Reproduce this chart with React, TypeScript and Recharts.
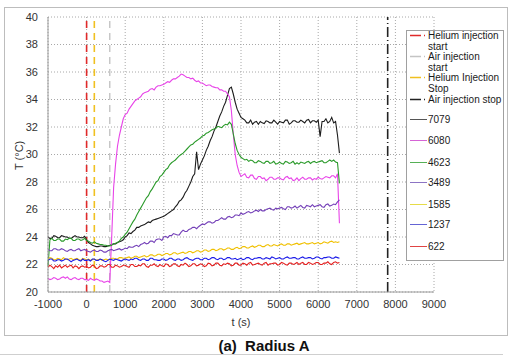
import React from 'react'
import { LineChart, Line, XAxis, YAxis, CartesianGrid, ReferenceLine, Legend } from 'recharts'

// time in seconds, one sample every 50 s; the last sample is the shutdown drop
const times = [
  -1000, -950, -900, -850, -800, -750, -700, -650, -600, -550,
  -500, -450, -400, -350, -300, -250, -200, -150, -100, -50,
  0, 50, 100, 150, 200, 250, 300, 350, 400, 450,
  500, 550, 600, 650, 700, 750, 800, 850, 900, 950,
  1000, 1050, 1100, 1150, 1200, 1250, 1300, 1350, 1400, 1450,
  1500, 1550, 1600, 1650, 1700, 1750, 1800, 1850, 1900, 1950,
  2000, 2050, 2100, 2150, 2200, 2250, 2300, 2350, 2400, 2450,
  2500, 2550, 2600, 2650, 2700, 2750, 2800, 2850, 2900, 2950,
  3000, 3050, 3100, 3150, 3200, 3250, 3300, 3350, 3400, 3450,
  3500, 3550, 3600, 3650, 3700, 3750, 3800, 3850, 3900, 3950,
  4000, 4050, 4100, 4150, 4200, 4250, 4300, 4350, 4400, 4450,
  4500, 4550, 4600, 4650, 4700, 4750, 4800, 4850, 4900, 4950,
  5000, 5050, 5100, 5150, 5200, 5250, 5300, 5350, 5400, 5450,
  5500, 5550, 5600, 5650, 5700, 5750, 5800, 5850, 5900, 5950,
  6000, 6050, 6100, 6150, 6200, 6250, 6300, 6350, 6400, 6450,
  6500, 6550,
]

const t7079 = [
  24.0, 23.9, 23.9, 24.1, 24.05, 23.95, 23.95, 24.1, 24.05, 24.0,
  24.0, 23.9, 23.9, 24.0, 24.1, 24.0, 24.0, 23.95, 23.95, 24.05,
  23.8, 23.6, 23.5, 23.4, 23.35, 23.3, 23.3, 23.35, 23.35, 23.3,
  23.3, 23.35, 23.4, 23.45, 23.5, 23.5, 23.6, 23.65, 23.7, 23.8,
  24.0, 24.1, 24.3, 24.25, 24.4, 24.5, 24.7, 24.7, 24.8, 24.85,
  24.9, 25.0, 25.1, 25.05, 25.2, 25.25, 25.3, 25.35, 25.4, 25.45,
  25.5, 25.6, 25.7, 25.8, 25.9, 26.0, 26.2, 26.35, 26.6, 26.7,
  26.9, 27.2, 27.4, 27.7, 28.0, 28.4, 28.6, 30.2, 28.9, 29.3,
  29.6, 29.9, 30.3, 30.6, 31.0, 31.3, 31.7, 32.0, 32.4, 32.8,
  33.1, 33.5, 33.8, 34.3, 34.8, 34.9, 34.4, 33.8, 33.3, 33.0,
  32.7, 32.6, 32.5, 32.3, 32.3, 32.5, 32.2, 32.35, 32.4, 32.2,
  32.4, 32.3, 32.25, 32.45, 32.4, 32.3, 32.3, 32.5, 32.35, 32.2,
  32.4, 32.35, 32.3, 32.5, 32.5, 32.2, 32.3, 32.45, 32.45, 32.35,
  32.35, 32.5, 32.4, 32.3, 32.5, 32.55, 32.3, 32.45, 32.45, 32.35,
  32.5, 31.3, 32.4, 32.4, 32.6, 32.3, 32.4, 32.7, 32.3, 32.4,
  31.4, 30.1,
]

const t6080 = [
  21.0, 20.9, 20.95, 21.05, 21.0, 20.9, 20.95, 21.05, 21.1, 21.0,
  21.1, 20.95, 20.9, 21.0, 21.05, 20.95, 20.9, 21.0, 21.0, 20.9,
  20.9, 20.85, 21.0, 20.9, 20.85, 20.95, 20.9, 20.8, 20.8, 20.7,
  20.75, 20.8, 20.7, 24.0, 27.6, 29.3, 30.6, 31.4, 32.0, 32.6,
  32.9, 33.0, 33.3, 33.5, 33.7, 33.9, 34.0, 34.1, 34.2, 34.4,
  34.5, 34.55, 34.6, 34.75, 34.8, 34.7, 34.9, 35.0, 35.0, 35.05,
  35.1, 35.2, 35.3, 35.25, 35.4, 35.5, 35.5, 35.6, 35.7, 35.85,
  35.8, 35.7, 35.6, 35.6, 35.5, 35.55, 35.4, 35.3, 35.35, 35.2,
  35.2, 35.1, 35.0, 35.05, 35.05, 34.95, 34.9, 34.85, 34.85, 34.7,
  34.7, 34.6, 34.6, 34.4, 34.2, 33.2, 31.5, 30.0, 29.2, 28.7,
  28.4, 28.5, 28.6, 28.35, 28.3, 28.5, 28.5, 28.25, 28.2, 28.4,
  28.4, 28.25, 28.3, 28.1, 28.2, 28.35, 28.35, 28.2, 28.2, 28.3,
  28.3, 28.2, 28.15, 28.35, 28.4, 28.25, 28.3, 28.1, 28.15, 28.3,
  28.1, 28.25, 28.35, 28.2, 28.2, 28.3, 28.3, 28.15, 28.25, 28.2,
  28.35, 28.25, 28.2, 28.3, 28.4, 28.35, 28.3, 28.45, 28.45, 28.3,
  28.6, 25.0,
]

const t4623 = [
  21.9, 23.8, 23.9, 23.75, 23.75, 23.85, 23.85, 23.7, 23.7, 23.85,
  23.8, 23.9, 23.9, 23.75, 23.75, 23.85, 23.85, 23.75, 23.8, 23.9,
  23.75, 23.7, 23.6, 23.55, 23.65, 23.55, 23.5, 23.45, 23.45, 23.4,
  23.4, 23.35, 23.35, 23.4, 23.5, 23.55, 23.6, 23.7, 23.9, 24.0,
  24.2, 24.35, 24.6, 24.85, 25.1, 25.3, 25.6, 25.85, 26.1, 26.35,
  26.6, 26.85, 27.0, 27.3, 27.5, 27.75, 28.0, 28.1, 28.4, 28.5,
  28.7, 28.9, 29.0, 29.25, 29.4, 29.5, 29.6, 29.75, 29.9, 30.0,
  30.1, 30.25, 30.4, 30.55, 30.7, 30.75, 30.9, 31.0, 31.1, 31.2,
  31.35, 31.4, 31.55, 31.6, 31.7, 31.8, 31.85, 31.9, 32.05, 32.0,
  31.95, 32.1, 32.2, 32.15, 32.35, 32.2, 31.5, 30.8, 30.3, 30.0,
  29.8, 29.7, 29.6, 29.65, 29.5, 29.6, 29.55, 29.4, 29.4, 29.55,
  29.5, 29.4, 29.35, 29.5, 29.5, 29.35, 29.4, 29.5, 29.3, 29.35,
  29.45, 29.35, 29.3, 29.5, 29.45, 29.35, 29.4, 29.5, 29.3, 29.4,
  29.3, 29.45, 29.4, 29.35, 29.45, 29.5, 29.35, 29.45, 29.5, 29.4,
  29.45, 29.5, 29.55, 29.4, 29.4, 29.5, 29.6, 29.5, 29.6, 29.45,
  29.4, 27.9,
]

const t3489 = [
  23.1, 23.0, 23.0, 23.15, 23.15, 23.05, 23.05, 23.15, 23.1, 23.0,
  22.95, 23.05, 23.1, 23.0, 23.0, 23.1, 23.15, 23.0, 23.05, 23.1,
  23.0, 22.95, 22.9, 23.0, 23.05, 22.95, 22.95, 23.05, 23.0, 22.9,
  22.9, 23.0, 23.05, 23.1, 23.0, 23.05, 23.1, 23.15, 23.05, 23.1,
  23.2, 23.15, 23.3, 23.25, 23.25, 23.35, 23.4, 23.3, 23.45, 23.5,
  23.6, 23.5, 23.55, 23.7, 23.7, 23.6, 23.8, 23.85, 23.85, 23.75,
  24.0, 24.05, 23.95, 24.1, 24.1, 24.25, 24.2, 24.15, 24.15, 24.35,
  24.5, 24.4, 24.4, 24.55, 24.6, 24.7, 24.7, 24.6, 24.75, 24.85,
  24.95, 24.9, 25.0, 25.1, 25.1, 25.0, 25.05, 25.2, 25.2, 25.3,
  25.4, 25.3, 25.3, 25.45, 25.5, 25.4, 25.45, 25.6, 25.6, 25.55,
  25.75, 25.65, 25.7, 25.8, 25.85, 25.75, 25.8, 25.9, 25.95, 25.85,
  26.0, 25.9, 25.9, 26.0, 26.05, 26.1, 26.0, 25.95, 26.1, 26.05,
  26.1, 26.15, 26.05, 26.0, 26.2, 26.2, 26.1, 26.15, 26.25, 26.1,
  26.2, 26.3, 26.15, 26.1, 26.3, 26.25, 26.2, 26.35, 26.2, 26.25,
  26.3, 26.35, 26.2, 26.15, 26.35, 26.4, 26.25, 26.3, 26.4, 26.35,
  26.55, 26.7,
]

const t1585 = [
  22.4, 22.5, 22.45, 22.35, 22.35, 22.45, 22.4, 22.35, 22.5, 22.4,
  22.35, 22.4, 22.45, 22.35, 22.4, 22.45, 22.35, 22.3, 22.45, 22.4,
  22.35, 22.4, 22.3, 22.35, 22.4, 22.3, 22.35, 22.4, 22.3, 22.35,
  22.4, 22.35, 22.35, 22.45, 22.45, 22.4, 22.4, 22.5, 22.5, 22.45,
  22.45, 22.5, 22.55, 22.45, 22.5, 22.6, 22.6, 22.5, 22.55, 22.6,
  22.65, 22.55, 22.6, 22.7, 22.7, 22.6, 22.65, 22.75, 22.75, 22.65,
  22.7, 22.8, 22.8, 22.7, 22.75, 22.85, 22.85, 22.75, 22.8, 22.85,
  22.9, 22.8, 22.85, 22.95, 22.95, 22.85, 22.9, 23.0, 23.0, 22.9,
  22.95, 23.05, 23.05, 22.95, 23.0, 23.1, 23.1, 23.0, 23.05, 23.15,
  23.15, 23.05, 23.1, 23.2, 23.2, 23.1, 23.1, 23.2, 23.25, 23.15,
  23.2, 23.3, 23.3, 23.2, 23.2, 23.3, 23.35, 23.25, 23.3, 23.4,
  23.4, 23.3, 23.3, 23.4, 23.45, 23.35, 23.35, 23.45, 23.4, 23.35,
  23.45, 23.5, 23.4, 23.4, 23.5, 23.5, 23.4, 23.45, 23.5, 23.55,
  23.45, 23.5, 23.55, 23.6, 23.5, 23.5, 23.55, 23.6, 23.5, 23.55,
  23.6, 23.5, 23.55, 23.65, 23.6, 23.55, 23.65, 23.7, 23.6, 23.65,
  23.6, 23.65,
]

const t1237 = [
  22.3, 22.4, 22.4, 22.25, 22.25, 22.35, 22.35, 22.25, 22.3, 22.4,
  22.4, 22.3, 22.2, 22.3, 22.35, 22.4, 22.3, 22.25, 22.4, 22.3,
  22.3, 22.35, 22.25, 22.4, 22.4, 22.3, 22.3, 22.4, 22.35, 22.25,
  22.2, 22.3, 22.4, 22.35, 22.3, 22.4, 22.35, 22.3, 22.25, 22.35,
  22.4, 22.35, 22.3, 22.4, 22.35, 22.45, 22.45, 22.35, 22.3, 22.4,
  22.4, 22.3, 22.3, 22.45, 22.45, 22.35, 22.35, 22.3, 22.3, 22.4,
  22.4, 22.3, 22.35, 22.45, 22.45, 22.35, 22.3, 22.4, 22.4, 22.3,
  22.35, 22.45, 22.5, 22.4, 22.35, 22.3, 22.4, 22.45, 22.45, 22.35,
  22.35, 22.45, 22.45, 22.35, 22.4, 22.5, 22.5, 22.4, 22.35, 22.45,
  22.45, 22.35, 22.4, 22.5, 22.5, 22.4, 22.4, 22.45, 22.35, 22.4,
  22.45, 22.35, 22.4, 22.5, 22.5, 22.4, 22.35, 22.45, 22.45, 22.5,
  22.5, 22.4, 22.4, 22.5, 22.45, 22.4, 22.55, 22.5, 22.4, 22.45,
  22.5, 22.4, 22.4, 22.5, 22.55, 22.45, 22.45, 22.5, 22.5, 22.4,
  22.4, 22.5, 22.55, 22.45, 22.45, 22.5, 22.5, 22.4, 22.45, 22.55,
  22.55, 22.45, 22.4, 22.5, 22.5, 22.55, 22.55, 22.45, 22.45, 22.55,
  22.5, 22.45,
]

const t622 = [
  21.8, 21.95, 21.85, 21.7, 21.9, 21.8, 21.95, 21.75, 21.85, 21.95,
  21.8, 21.9, 21.95, 21.75, 21.9, 21.85, 21.7, 21.85, 21.9, 21.8,
  21.85, 21.75, 21.8, 21.95, 21.9, 21.7, 21.75, 21.9, 21.9, 21.8,
  21.85, 22.0, 22.0, 21.8, 21.8, 21.95, 21.9, 21.8, 21.85, 21.95,
  21.95, 21.85, 21.8, 22.0, 22.0, 21.85, 21.85, 21.95, 21.9, 22.05,
  22.05, 21.85, 21.8, 21.95, 21.95, 22.05, 21.9, 21.85, 22.0, 21.9,
  21.85, 22.05, 22.0, 21.85, 21.9, 22.05, 22.05, 21.9, 21.85, 22.0,
  21.95, 22.1, 22.0, 21.85, 21.9, 22.05, 22.05, 21.9, 21.95, 22.05,
  22.0, 21.85, 21.9, 22.1, 22.05, 21.9, 21.95, 22.1, 22.1, 21.95,
  21.9, 22.05, 22.0, 22.1, 22.05, 21.9, 21.95, 22.1, 22.1, 21.95,
  21.95, 22.1, 22.05, 21.95, 22.1, 22.15, 21.95, 22.0, 22.05, 22.1,
  22.0, 21.95, 22.1, 22.15, 21.95, 22.05, 22.05, 22.1, 22.1, 21.95,
  22.0, 22.15, 22.1, 22.0, 21.95, 22.1, 22.1, 22.0, 22.05, 22.15,
  22.0, 22.1, 22.15, 22.0, 22.0, 22.15, 22.1, 22.0, 22.05, 22.15,
  22.15, 22.0, 22.0, 22.1, 22.1, 22.2, 22.05, 22.0, 22.15, 22.2,
  22.1, 22.15,
]

// event times (s)
const heliumStart = 0
const heliumStop = 200
const airStart = 600
const airStop = 7800

const xTicks = [-1000, 0, 1000, 2000, 3000, 4000, 5000, 6000, 7000, 8000, 9000]
const yTicks = [20, 22, 24, 26, 28, 30, 32, 34, 36, 38, 40]

const series = [
  { key: 'r7079', name: '7079', values: t7079, color: '#1c1c1c', legendColor: '#555555' },
  { key: 'r6080', name: '6080', values: t6080, color: '#e844e8', legendColor: '#d664d6' },
  { key: 'r4623', name: '4623', values: t4623, color: '#2a9a2a', legendColor: '#56b056' },
  { key: 'r3489', name: '3489', values: t3489, color: '#7440b8', legendColor: '#8c74c4' },
  { key: 'r1585', name: '1585', values: t1585, color: '#f0c000', legendColor: '#e6dc48' },
  { key: 'r1237', name: '1237', values: t1237, color: '#1c1ce8', legendColor: '#6464d4' },
  { key: 'r622', name: '622', values: t622, color: '#e42020', legendColor: '#e04444' },
]

const data = times.map((t, i) => {
  const row: Record<string, number> = { t }
  series.forEach(s => { row[s.key] = s.values[i] })
  return row
})

const font = '"Liberation Sans", Arial, sans-serif'

const eventLegend = [
  { lines: ['Helium injection', 'start'], color: '#e02a2a', dash: '11 3 1 3', center: 4.7 },
  { lines: ['Air injection', 'start'], color: '#c4c4c4', dash: '11 3 1 3', center: 25.3 },
  { lines: ['Helium Injection', 'Stop'], color: '#f0c020', dash: '11 3 1 3', center: 46.7 },
  { lines: ['Air injection stop'], color: '#222222', dash: '11 3 1 3', center: 68 },
]
const seriesCenters = [88, 109.3, 131, 151.7, 173.3, 193.3, 215]

const LegendRow = ({ center, color, dash, lines }: { center: number; color: string; dash?: string; lines: string[] }) => (
  <div style={{ position: 'absolute', left: 0, top: center - 5.5, width: 98 }}>
    <svg width={20} height={11} style={{ position: 'absolute', left: 1, top: 0 }}>
      <line x1={2} y1={5.5} x2={19} y2={5.5} stroke={color} strokeWidth={dash ? 1.6 : 1} strokeDasharray={dash} />
    </svg>
    <div style={{ position: 'absolute', left: 21, top: 0, fontSize: 10, lineHeight: '11px', color: '#1a1a1a', whiteSpace: 'nowrap' }}>
      {lines.map(l => <div key={l}>{l}</div>)}
    </div>
  </div>
)

const renderLegend = () => (
  <div style={{ position: 'relative', width: 98, height: 231, border: '1px solid #a0a0a0', background: '#fff', boxSizing: 'border-box', fontFamily: font }}>
    {eventLegend.map(e => <LegendRow key={e.lines[0]} {...e} />)}
    {series.map((s, i) => <LegendRow key={s.key} center={seriesCenters[i]} color={s.legendColor} lines={[s.name]} />)}
  </div>
)

export default function App() {
  return (
    <div style={{ position: 'absolute', left: 0, top: 0, width: 520, height: 363, background: '#fff', fontFamily: font, overflow: 'hidden' }}>
      <div style={{ position: 'absolute', left: 4, top: 7, width: 502, height: 327, border: '1px solid #bdbdbd' }} />
      <LineChart width={520} height={363} data={data} margin={{ top: 17, right: 86, bottom: 41, left: 0 }} style={{ position: 'absolute', left: 0, top: 0 }}>
        <CartesianGrid stroke="#a8a8a8" strokeDasharray="1 2" />
        <XAxis
          dataKey="t"
          type="number"
          domain={[-1000, 9000]}
          ticks={xTicks}
          height={30}
          axisLine={{ stroke: '#9a9a9a' }}
          tickLine={false}
          tickMargin={2}
          tick={{ fill: '#333', fontSize: 11, fontFamily: font }}
        />
        <YAxis
          type="number"
          domain={[20, 40]}
          ticks={yTicks}
          width={48}
          axisLine={{ stroke: '#9a9a9a' }}
          tickLine={false}
          tickMargin={4}
          tick={{ fill: '#333', fontSize: 11, fontFamily: font }}
        />
        <Legend
          layout="vertical"
          align="center"
          verticalAlign="middle"
          content={renderLegend}
          wrapperStyle={{ position: 'absolute', left: 406, top: 30, width: 98, height: 231 }}
        />
        <ReferenceLine x={heliumStart} stroke="#e02a2a" strokeWidth={1.6} strokeDasharray="7 5" />
        <ReferenceLine x={heliumStop} stroke="#f0c020" strokeWidth={1.6} strokeDasharray="7 5" />
        <ReferenceLine x={airStart} stroke="#c4c4c4" strokeWidth={1.4} strokeDasharray="7 5" />
        <ReferenceLine x={airStop} stroke="#222" strokeWidth={1.6} strokeDasharray="10 3 1 3" />
        {series.map(s => (
          <Line
            key={s.key}
            dataKey={s.key}
            name={s.name}
            type="linear"
            stroke={s.color}
            strokeWidth={1.1}
            dot={false}
            isAnimationActive={false}
          />
        ))}
      </LineChart>
      <div style={{ position: 'absolute', left: 5, top: 150, width: 28, height: 12, fontSize: 11, lineHeight: '12px', color: '#333', textAlign: 'center', transform: 'rotate(-90deg)', whiteSpace: 'nowrap' }}>
        T (°C)
      </div>
      <div style={{ position: 'absolute', left: 191, top: 315, width: 100, fontSize: 11, lineHeight: '14px', color: '#333', textAlign: 'center' }}>
        t (s)
      </div>
      <div style={{ position: 'absolute', left: 164, top: 337, width: 200, fontSize: 15, lineHeight: '18px', fontWeight: 'bold', color: '#111', textAlign: 'center', whiteSpace: 'pre' }}>
        (a)  Radius A
      </div>
      <div style={{ position: 'absolute', left: 0, top: 354, width: 503, height: 1, background: '#cfcfcf' }} />
    </div>
  )
}
